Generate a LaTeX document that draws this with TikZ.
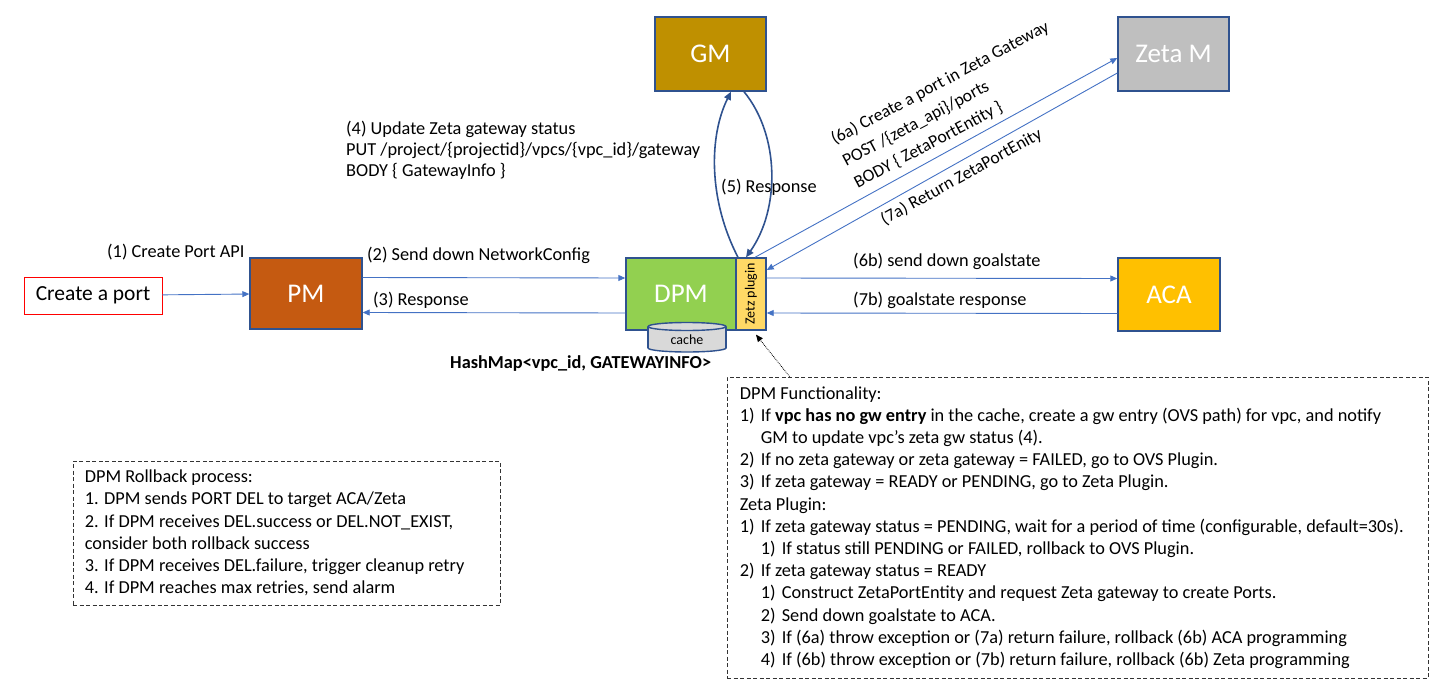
\documentclass[tikz,border=0pt]{standalone}
\usepackage{fontspec}
\setmainfont{Carlito}
\usetikzlibrary{arrows.meta}
\definecolor{bordblue}{HTML}{2F528F}
\definecolor{arrblue}{HTML}{4472C4}
\definecolor{pmfill}{HTML}{C55A11}
\definecolor{dpmfill}{HTML}{92D050}
\definecolor{plugfill}{HTML}{FFD966}
\definecolor{gmfill}{HTML}{BF9000}
\definecolor{zetafill}{HTML}{BFBFBF}
\definecolor{acafill}{HTML}{FFC000}
\definecolor{cachefill}{HTML}{D9D9D9}
\newcommand{\itemlbl}[1]{\makebox[21pt][l]{#1}}
\tikzset{
  box/.style={draw=bordblue, line width=1.4pt, text=white, inner sep=0pt,
    font=\fontsize{27}{30}\selectfont},
  flow/.style={draw=arrblue, line width=0.9pt, -{Triangle[length=7pt,width=6pt]}},
  gmflow/.style={draw=bordblue, line width=1.6pt, -{Triangle[length=8pt,width=7pt]}},
  lbl/.style={anchor=west, inner sep=0pt, align=left, font=\fontsize{18.3}{22.2}\selectfont},
  slant/.style={lbl, anchor=south west, font=\fontsize{17.6}{24.5}\selectfont},
  note/.style={draw=black!80, line width=0.8pt, dash pattern=on 4pt off 2.5pt, inner sep=0pt}
}
\begin{document}
\begin{tikzpicture}[x=1pt,y=-1pt]
% all positions in pixels of the sketch, y going down
\useasboundingbox (0,0) rectangle (1435,682);
\node[draw=red, line width=0.8pt, minimum width=138pt, minimum height=37pt, inner sep=0pt,
  font=\fontsize{21.5}{24}\selectfont] (port) at (93,295.5) {Create a port};
\node[box, fill=pmfill, minimum width=112pt, minimum height=71pt] (pm) at (306,293.5) {PM};
\node[box, fill=dpmfill, minimum width=110pt, minimum height=72pt] (dpm) at (681,294) {DPM};
\node[box, fill=plugfill, minimum width=30pt, minimum height=72pt] (plugin) at (751,294) {};
\node[rotate=90, inner sep=0pt, font=\fontsize{14}{16}\selectfont] (pluginlbl) at (plugin) {Zetz plugin};
\node[box, fill=gmfill, minimum width=111pt, minimum height=74pt] (gm) at (710.5,54) {GM};
\node[box, fill=zetafill, minimum width=111pt, minimum height=74pt] (zetam) at (1173.5,54) {Zeta M};
\node[box, fill=acafill, minimum width=102pt, minimum height=73pt] (aca) at (1169,294.5) {ACA};
% cache drum under DPM
\filldraw[draw=bordblue, fill=cachefill, line width=1.4pt] (687,348) ellipse (39 and 4);
\fill[cachefill] (648,326.5) rectangle (726,348);
\draw[bordblue, line width=1.4pt] (648,326.5) -- (648,348) (726,326.5) -- (726,348);
\filldraw[draw=bordblue, fill=cachefill, line width=1.4pt] (687,326.5) ellipse (39 and 4);
\node[inner sep=0pt, font=\fontsize{14}{16}\selectfont] (cache) at (687,340) {cache};
\node[lbl, font=\bfseries\fontsize{18.3}{20}\selectfont] (hashmap) at (450,364) {HashMap<vpc\_id, GATEWAYINFO>};
% connectors
\draw[flow] (port) -- (pm);
\draw[flow] ([yshift=16pt]pm.east) -- ([yshift=16pt]dpm.west);
\draw[flow] ([yshift=-19pt]dpm.west) -- ([yshift=-19pt]pm.east);
\draw[flow] ([yshift=16pt]plugin.east) -- ([yshift=16pt]aca.west);
\draw[flow] ([yshift=-19pt]aca.west) -- ([yshift=-19pt]plugin.east);
\draw[flow] ([xshift=4pt]plugin.north) -- ([yshift=-4pt]zetam.west);
\draw[flow] ([yshift=-19pt]zetam.west) -- ([yshift=24pt]plugin.east);
\draw[gmflow] ([xshift=-13pt]plugin.north) .. controls +(-30,-58) and +(-22,44) .. ([xshift=20.5pt]gm.south);
\draw[gmflow] ([xshift=33.5pt]gm.south) .. controls +(36,44) and +(34,-48) .. ([xshift=-5pt]plugin.north);
% labels
\node[lbl] (l1) at (107,252) {(1) Create Port API};
\node[lbl] (l2) at (367,255) {(2) Send down NetworkConfig};
\node[lbl] (l3) at (373,300) {(3) Response};
\node[lbl, font=\fontsize{18.3}{21}\selectfont] (l4) at (346,150) {(4) Update Zeta gateway status\\PUT /project/\{projectid\}/vpcs/\{vpc\_id\}/gateway\\BODY \{ GatewayInfo \}};
\node[lbl] (l5) at (721,187) {(5) Response};
\node[slant, rotate=28] (l6a) at (859,191) {(6a) Create a port in Zeta Gateway\\POST /\{zeta\_api\}/ports\\BODY \{ ZetaPortEntity \}};
\node[slant, rotate=29] (l7a) at (886,228) {(7a) Return ZetaPortEnity};
\node[lbl] (l6b) at (853,261) {(6b) send down goalstate};
\node[lbl] (l7b) at (853,300) {(7b) goalstate response};
% notes
\node[note, minimum width=427pt, minimum height=144pt] (rollback) at (286.5,533) {};
\node[lbl] (rollbacktxt) at ([xshift=12pt]rollback.west) {DPM Rollback process:\\
1. DPM sends PORT DEL to target ACA/Zeta\\
2. If DPM receives DEL.success or DEL.NOT\_EXIST,\\
consider both rollback success\\
3. If DPM receives DEL.failure, trigger cleanup retry\\
4. If DPM reaches max retries, send alarm};
\node[note, minimum width=701pt, minimum height=301pt] (func) at (1077.5,527.5) {};
\node[lbl] (functxt) at ([xshift=13pt]func.west) {DPM Functionality:\\
\itemlbl{1)}If \textbf{vpc has no gw entry} in the cache, create a gw entry (OVS path) for vpc, and notify\\
\hspace*{21pt}GM to update vpc’s zeta gw status (4).\\
\itemlbl{2)}If no zeta gateway or zeta gateway = FAILED, go to OVS Plugin.\\
\itemlbl{3)}If zeta gateway = READY or PENDING, go to Zeta Plugin.\\
Zeta Plugin:\\
\itemlbl{1)}If zeta gateway status = PENDING, wait for a period of time (configurable, default=30s).\\
\hspace*{21pt}\itemlbl{1)}If status still PENDING or FAILED, rollback to OVS Plugin.\\
\itemlbl{2)}If zeta gateway status = READY\\
\hspace*{21pt}\itemlbl{1)}Construct ZetaPortEntity and request Zeta gateway to create Ports.\\
\hspace*{21pt}\itemlbl{2)}Send down goalstate to ACA.\\
\hspace*{21pt}\itemlbl{3)}If (6a) throw exception or (7a) return failure, rollback (6b) ACA programming\\
\hspace*{21pt}\itemlbl{4)}If (6b) throw exception or (7b) return failure, rollback (6b) Zeta programming};
\draw[densely dotted, line width=0.8pt, -{Triangle[length=7pt,width=6pt]}] ([xshift=63pt]func.north west) -- ([xshift=5pt,yshift=-4pt]plugin.south);
\end{tikzpicture}
\end{document}
